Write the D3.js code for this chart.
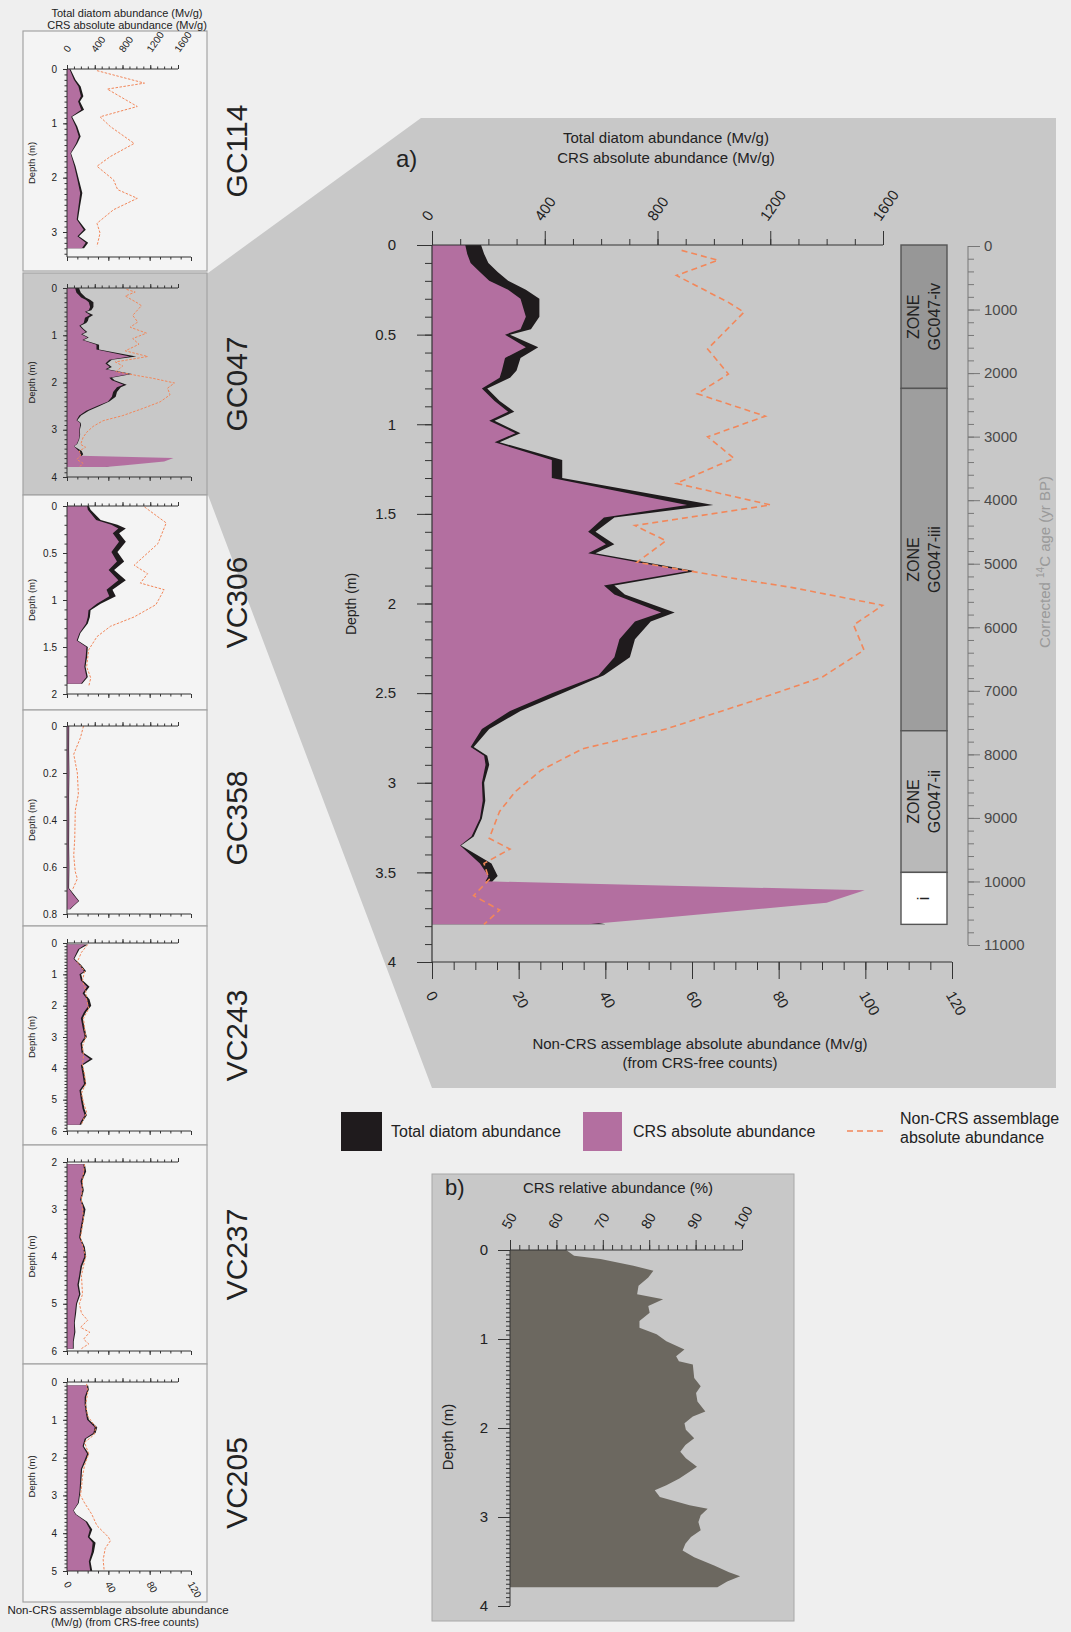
<!DOCTYPE html>
<html>
<head>
<meta charset="utf-8">
<script src="https://cdn.jsdelivr.net/npm/d3@7"></script>
<style>
  body { margin: 0; background: #efefef; }
  svg { display: block; }
</style>
</head>
<body>
<svg id="fig" width="1071" height="1632"></svg>
<script>
// ---------------- GC047 (panel a and its thumbnail) ----------------
const gc047Depth = [0,0.05,0.10,0.15,0.20,0.25,0.30,0.40,0.47,0.50,0.57,0.63,0.70,0.74,0.80,0.87,0.93,0.98,1.05,1.10,1.20,1.30,1.45,1.52,1.60,1.67,1.72,1.82,1.90,1.95,2.05,2.10,2.20,2.30,2.40,2.50,2.60,2.70,2.80,2.85,2.90,3.00,3.10,3.20,3.30,3.35,3.45,3.52,3.55,3.60,3.67,3.75,3.79];
const gc047Total = [174,185,200,233,270,333,381,381,351,277,377,314,300,277,196,240,292,222,314,240,462,462,998,647,580,647,580,935,647,684,861,776,720,702,610,462,314,203,148,196,203,185,189,177,148,103,211,233,215,200,200,475,616];
const gc047CRS = [118,125,137,170,203,270,314,333,314,259,333,259,248,240,177,222,270,203,296,222,425,425,905,610,554,617,554,905,610,647,813,720,665,647,591,425,277,177,137,185,190,177,180,170,140,100,170,200,190,1535,1400,840,554];
const gc047NonDepth = [0.03,0.085,0.17,0.32,0.375,0.58,0.72,0.83,0.955,1.07,1.19,1.33,1.45,1.565,1.65,1.77,1.855,1.91,2.01,2.12,2.26,2.41,2.55,2.70,2.81,2.93,3.05,3.16,3.31,3.37,3.45,3.54,3.63,3.71,3.79];
const gc047NonCRS = [57.6,66,56.4,68.4,72,63.6,68.4,61.2,76.9,63.6,69.7,56.4,78.1,46.8,54,47.3,68.4,82.9,104,97.3,99.7,90.1,73.3,54,34.8,25.2,19.2,15.6,13.2,18,12,13.2,9.6,15.6,12];

// zonation of GC047 (depth in m)
const zoneLabels = ["GC047-iv","GC047-iii","GC047-ii","i"];
const zoneTop = [0,0.80,2.71,3.50];
const zoneBottom = [0.80,2.71,3.50,3.79];

// ---------------- other cores (thumbnails) ----------------
const gc114Depth = [0,0.20,0.32,0.50,0.60,0.75,0.88,1.06,1.24,1.37,1.55,1.79,2.04,2.28,2.53,2.77,2.96,3.08,3.20,3.30];
const gc114Total = [49,123,197,236,187,246,74,148,197,148,59,123,172,221,187,158,271,172,305,246];
const gc114CRS = [35,100,165,200,160,205,60,125,170,130,50,105,150,190,165,140,240,150,270,215];
const gc114NonDepth = [0.03,0.26,0.37,0.69,0.88,1.06,1.37,1.61,1.79,2.04,2.22,2.38,2.59,2.84,3.02,3.26];
const gc114NonCRS = [29,75,39,68,32,42,65,42,29,45,49,68,45,29,32,29];

const vc306Depth = [0,0.04,0.15,0.20,0.24,0.29,0.38,0.49,0.59,0.68,0.79,0.89,0.96,1.04,1.11,1.18,1.25,1.35,1.43,1.50,1.60,1.71,1.82,1.89];
const vc306Total = [315,340,485,727,848,751,848,727,824,679,848,655,703,485,340,330,300,194,155,300,291,267,300,218];
const vc306CRS = [290,300,420,640,740,660,750,640,720,600,740,570,610,430,310,300,275,180,140,280,270,250,280,200];
const vc306NonDepth = [0.01,0.18,0.40,0.63,0.72,0.82,0.89,1.05,1.18,1.28,1.39,1.53,1.71,1.83,1.92];
const vc306NonCRS = [75,96,88,65,78,71,94,86,65,42,29,21,19,23,21];

const gc358Depth = [0,0.10,0.20,0.30,0.40,0.50,0.60,0.69,0.72,0.745,0.77,0.78];
const gc358Total = [32,30,34,30,32,30,34,30,110,175,80,50];
const gc358CRS = [22,20,24,20,22,20,24,20,95,165,70,40];
const gc358NonDepth = [0,0.05,0.12,0.20,0.29,0.36,0.48,0.55,0.62,0.65,0.70];
const gc358NonCRS = [16,13,6.5,10,11,8,7.5,6.5,8,10,5];

const vc243Depth = [0.05,0.2,0.5,0.7,0.9,1.0,1.2,1.4,1.6,1.8,2.0,2.2,2.4,2.7,3.0,3.2,3.5,3.7,3.9,4.2,4.5,4.7,5.0,5.3,5.5,5.7,5.8];
const vc243Total = [300,180,107,204,276,204,228,325,252,325,349,276,228,252,286,218,238,373,228,252,276,204,228,252,286,228,204];
const vc243CRS = [265,160,95,180,245,180,200,290,225,290,310,245,200,225,255,195,210,330,200,225,245,180,200,225,255,200,180];
const vc243NonDepth = [0.05,0.3,0.6,0.9,1.2,1.5,1.8,2.1,2.4,2.7,3.0,3.3,3.6,3.9,4.2,4.5,4.8,5.1,5.4,5.7,5.8];
const vc243NonCRS = [20,14,10,17,15,18,19,21,16,17,18,15,16,15,17,18,14,16,19,15,14];

const vc237Depth = [2.05,2.2,2.4,2.6,2.8,3.0,3.2,3.4,3.6,3.8,4.0,4.2,4.4,4.6,4.8,5.0,5.2,5.4,5.6,5.8,5.95];
const vc237Total = [257,276,218,242,208,267,242,218,194,257,276,218,194,170,194,145,131,112,121,97,97];
const vc237CRS = [235,250,195,220,190,240,220,195,175,235,250,195,175,150,175,130,115,100,105,85,85];
const vc237NonDepth = [2.05,2.4,2.8,3.2,3.6,4.0,4.4,4.8,5.0,5.2,5.35,5.5,5.6,5.75,5.85,5.95];
const vc237NonCRS = [17,15,14,16,13,18,14,15,12,14,20,13,22,16,21,14];

const vc205Depth = [0.09,0.2,0.4,0.6,0.8,1.0,1.2,1.35,1.5,1.7,1.9,2.1,2.3,2.6,2.9,3.2,3.4,3.5,3.7,3.9,4.1,4.25,4.5,4.75,5.0];
const vc205Total = [305,315,276,276,291,315,436,412,276,242,315,267,218,208,194,170,97,131,291,364,325,412,388,339,364];
const vc205CRS = [285,295,255,255,270,290,400,380,255,225,290,245,200,190,180,158,90,120,270,330,300,370,355,315,335];
const vc205NonDepth = [0.05,0.3,0.6,0.9,1.2,1.4,1.6,1.9,2.2,2.5,2.8,3.0,3.2,3.5,3.8,4.1,4.2,4.4,4.7,5.0];
const vc205NonCRS = [19,20,18,20,28,26,17,21,17,15,14,13,17,24,29,40,42,37,35,36];

const coreNames = ["GC114","GC047","VC306","GC358","VC243","VC237","VC205"];
const coreDepthRange = [[0,3.46],[0,4],[0,2],[0,0.8],[0,6],[2,6],[0,5]];
const coreDepthTicks = [[0,1,2,3],[0,1,2,3,4],[0,0.5,1,1.5,2],[0,0.2,0.4,0.6,0.8],[0,1,2,3,4,5,6],[2,3,4,5,6],[0,1,2,3,4,5]];

// ---------------- panel b: CRS relative abundance, GC047 ----------------
const relDepth = [0,0.064,0.102,0.177,0.233,0.309,0.403,0.497,0.553,0.629,0.704,0.798,0.873,0.948,1.024,1.118,1.193,1.25,1.287,1.438,1.532,1.607,1.701,1.814,1.871,1.946,2.021,2.115,2.19,2.266,2.341,2.435,2.492,2.567,2.642,2.699,2.774,2.868,2.906,2.981,3.056,3.15,3.225,3.301,3.376,3.451,3.545,3.621,3.666,3.726,3.79];
const relCRS = [62.1,63.8,69.5,76.6,80.9,79.8,77.7,77.4,83.0,79.8,80.1,77.9,77.9,81.6,83.7,87.6,85.8,86.4,89.4,89.7,91.1,90.1,90.4,92.1,89.4,87.6,87.9,89.7,87.8,86.7,87.9,90.3,88.7,86.5,83.7,81.2,82.3,88.7,92.6,91.1,90.6,91.1,89.0,87.8,87.2,89.7,94.0,97.2,99.6,96.8,94.7];

// ---------------- tick values ----------------
const absTicks = [0,400,800,1200,1600];
const nonTicks = [0,20,40,60,80,100,120];
const smallNonTicks = [0,40,80,120];
const depthTicks = [0,0.5,1,1.5,2,2.5,3,3.5,4];
const ageTicks = [0,1000,2000,3000,4000,5000,6000,7000,8000,9000,10000,11000];
const relTicks = [50,60,70,80,90,100];
const relDepthTicks = [0,1,2,3,4];

// ---------------- styling ----------------
const FONT = '"Liberation Sans", Arial, Helvetica, sans-serif';
const INK = "#222";
const BLACK = "#1f1b1d";
const PINK = "#b36fa0";
const ORANGE = "#f2875a";
const GRAY = "#c8c8c8";
const fig = d3.select("#fig").attr("font-family", FONT);

function tidy(g, size, color) {
  g.attr("font-family", FONT).attr("font-size", size);
  g.select(".domain").remove();
  g.selectAll(".tick line").attr("stroke", "#333").attr("stroke-width", 1);
  g.selectAll(".tick text").attr("fill", color || INK);
  return g;
}
function rows(depths, a, b) {
  return depths.map((d, i) => ({ d, a: a[i], b: b ? b[i] : null }));
}
function vLabel(sel, x, y, text, size, color) {
  return sel.append("text").attr("transform", `translate(${x},${y}) rotate(-90)`)
    .attr("text-anchor", "middle").attr("font-size", size).attr("fill", color || INK).text(text);
}

fig.append("rect").attr("width", 1071).attr("height", 1632).attr("fill", "#efefef");

// grey band joining the GC047 thumbnail to panel a
fig.append("polygon")
  .attr("points", [[23,273],[208,273],[421,118],[1056,118],[1056,1088],[432,1088],[208,495],[23,495]].map(p => p.join(",")).join(" "))
  .attr("fill", GRAY);

// ---------------- thumbnails ----------------
const panelLayout = [
  { boxTop: 31,   boxBottom: 271,  plotTop: 69,   plotBottom: 257 },
  { boxTop: 273,  boxBottom: 495,  plotTop: 288,  plotBottom: 477 },
  { boxTop: 495,  boxBottom: 710,  plotTop: 506,  plotBottom: 694 },
  { boxTop: 710,  boxBottom: 926,  plotTop: 726,  plotBottom: 914 },
  { boxTop: 926,  boxBottom: 1145, plotTop: 943,  plotBottom: 1131 },
  { boxTop: 1145, boxBottom: 1364, plotTop: 1162, plotBottom: 1351 },
  { boxTop: 1364, boxBottom: 1602, plotTop: 1382, plotBottom: 1571 }
];
const coreSeries = [
  [gc114Depth, gc114Total, gc114CRS, gc114NonDepth, gc114NonCRS],
  [gc047Depth, gc047Total, gc047CRS, gc047NonDepth, gc047NonCRS],
  [vc306Depth, vc306Total, vc306CRS, vc306NonDepth, vc306NonCRS],
  [gc358Depth, gc358Total, gc358CRS, gc358NonDepth, gc358NonCRS],
  [vc243Depth, vc243Total, vc243CRS, vc243NonDepth, vc243NonCRS],
  [vc237Depth, vc237Total, vc237CRS, vc237NonDepth, vc237NonCRS],
  [vc205Depth, vc205Total, vc205CRS, vc205NonDepth, vc205NonCRS]
];
const sAbs = d3.scaleLinear().domain([0,1600]).range([67,178]);
const sNon = d3.scaleLinear().domain([0,120]).range([67,191]);

coreNames.forEach((name, i) => {
  const L = panelLayout[i];
  const [dep, tot, crs, nDep, nVal] = coreSeries[i];
  const g = fig.append("g");
  g.append("rect").attr("x", 23).attr("y", L.boxTop).attr("width", 184).attr("height", L.boxBottom - L.boxTop)
    .attr("fill", i === 1 ? GRAY : "#f4f4f4").attr("stroke", "#a3a3a3").attr("stroke-width", 1.2);
  const [d0, d1] = coreDepthRange[i];
  const y = d3.scaleLinear().domain([d0, d1]).range([L.plotTop, L.plotBottom]);
  const data = rows(dep, tot, crs);
  g.append("path").datum(data).attr("fill", BLACK)
    .attr("d", d3.area().y(p => y(p.d)).x0(sAbs(0)).x1(p => sAbs(p.a)));
  g.append("path").datum(data).attr("fill", PINK)
    .attr("d", d3.area().y(p => y(p.d)).x0(sAbs(0)).x1(p => sAbs(p.b)));
  g.append("path").datum(rows(nDep, nVal)).attr("fill", "none").attr("stroke", ORANGE)
    .attr("stroke-width", 1).attr("stroke-dasharray", "2.5,1.5")
    .attr("d", d3.line().y(p => y(p.d)).x(p => sNon(p.a)));

  // top axis
  g.append("line").attr("x1", 67).attr("x2", sAbs(1600)).attr("y1", L.plotTop).attr("y2", L.plotTop).attr("stroke", "#333");
  tidy(g.append("g").attr("transform", `translate(0,${L.plotTop})`)
    .call(d3.axisTop(sAbs).tickValues(d3.range(0, 1601, 100)).tickSize(2.5).tickFormat("")), 10);
  const top = tidy(g.append("g").attr("transform", `translate(0,${L.plotTop})`)
    .call(d3.axisTop(sAbs).tickValues(absTicks).tickSize(4).tickFormat(i === 0 ? d3.format("d") : "")), 10);
  top.selectAll(".tick text").attr("y", 0).attr("dy", null).attr("text-anchor", "start")
    .attr("transform", "translate(1,-16) rotate(-55)");

  // bottom axis
  g.append("line").attr("x1", 67).attr("x2", sNon(120)).attr("y1", L.plotBottom).attr("y2", L.plotBottom).attr("stroke", "#333");
  tidy(g.append("g").attr("transform", `translate(0,${L.plotBottom})`)
    .call(d3.axisBottom(sNon).tickValues(d3.range(0, 121, 10)).tickSize(2.5).tickFormat("")), 10);
  const bot = tidy(g.append("g").attr("transform", `translate(0,${L.plotBottom})`)
    .call(d3.axisBottom(sNon).tickValues(smallNonTicks).tickSize(4).tickFormat(i === 6 ? d3.format("d") : "")), 10);
  bot.selectAll(".tick text").attr("y", 0).attr("dy", null).attr("text-anchor", "start")
    .attr("transform", "translate(-4,13) rotate(60)");

  // depth axis
  g.append("line").attr("x1", 67).attr("x2", 67).attr("y1", L.plotTop).attr("y2", L.plotBottom).attr("stroke", "#333");
  const minor = d3.range(Math.round(d0 * 10), Math.round(d1 * 10) + 1).map(v => v / 10).filter(v => v <= d1);
  tidy(g.append("g").attr("transform", "translate(67,0)")
    .call(d3.axisLeft(y).tickValues(minor).tickSize(2.5).tickFormat("")), 10);
  tidy(g.append("g").attr("transform", "translate(67,0)")
    .call(d3.axisLeft(y).tickValues(coreDepthTicks[i]).tickSize(4).tickPadding(6).tickFormat(d => String(d))), 10);

  vLabel(g, 35, (L.plotTop + L.plotBottom) / 2, "Depth (m)", 9.5);
  vLabel(g, 236, (L.boxTop + L.boxBottom) / 2, name, 30).attr("dominant-baseline", "central");
});

// thumbnail headings
fig.append("text").attr("x", 127).attr("y", 17).attr("text-anchor", "middle").attr("font-size", 11).attr("fill", INK)
  .text("Total diatom abundance (Mv/g)");
fig.append("text").attr("x", 127).attr("y", 29).attr("text-anchor", "middle").attr("font-size", 11).attr("fill", INK)
  .text("CRS absolute abundance (Mv/g)");
fig.append("text").attr("x", 118).attr("y", 1614).attr("text-anchor", "middle").attr("font-size", 11.5).attr("fill", INK)
  .text("Non-CRS assemblage absolute abundance");
fig.append("text").attr("x", 125).attr("y", 1626).attr("text-anchor", "middle").attr("font-size", 11).attr("fill", INK)
  .text("(Mv/g) (from CRS-free counts)");

// ---------------- panel a ----------------
const A = fig.append("g");
const X0 = 432;
const yA = d3.scaleLinear().domain([0,4]).range([245,962]);
const xAbs = d3.scaleLinear().domain([0,1600]).range([X0,883]);
const xNon = d3.scaleLinear().domain([0,120]).range([X0,952]);
const yAge = d3.scaleLinear().domain([0,11000]).range([246,945]);

const mainRows = rows(gc047Depth, gc047Total, gc047CRS);
A.append("path").datum(mainRows).attr("fill", BLACK)
  .attr("d", d3.area().y(p => yA(p.d)).x0(xAbs(0)).x1(p => xAbs(p.a)));
A.append("path").datum(mainRows).attr("fill", PINK)
  .attr("d", d3.area().y(p => yA(p.d)).x0(xAbs(0)).x1(p => xAbs(p.b)));
A.append("path").datum(rows(gc047NonDepth, gc047NonCRS)).attr("fill", "none").attr("stroke", ORANGE)
  .attr("stroke-width", 1.6).attr("stroke-dasharray", "6,4")
  .attr("d", d3.line().y(p => yA(p.d)).x(p => xNon(p.a)));

// top (absolute abundance) axis
A.append("line").attr("x1", X0).attr("x2", xAbs(1600)).attr("y1", 245).attr("y2", 245).attr("stroke", "#333").attr("stroke-width", 1.2);
tidy(A.append("g").attr("transform", "translate(0,245)")
  .call(d3.axisTop(xAbs).tickValues(d3.range(0, 1601, 100)).tickSize(6).tickFormat("")), 15);
const aTop = tidy(A.append("g").attr("transform", "translate(0,245)")
  .call(d3.axisTop(xAbs).tickValues(absTicks).tickSize(14).tickFormat(d3.format("d"))), 15);
aTop.selectAll(".tick text").attr("y", 0).attr("dy", null).attr("text-anchor", "start")
  .attr("transform", "translate(-3,-23) rotate(-55)");

// bottom (non-CRS) axis
A.append("line").attr("x1", X0).attr("x2", xNon(120)).attr("y1", 962).attr("y2", 962).attr("stroke", "#333").attr("stroke-width", 1.2);
tidy(A.append("g").attr("transform", "translate(0,962)")
  .call(d3.axisBottom(xNon).tickValues(d3.range(0, 121, 5)).tickSize(8).tickFormat("")), 15);
const aBot = tidy(A.append("g").attr("transform", "translate(0,962)")
  .call(d3.axisBottom(xNon).tickValues(nonTicks).tickSize(17).tickFormat(d3.format("d"))), 15);
aBot.selectAll(".tick text").attr("y", 0).attr("dy", null).attr("text-anchor", "start")
  .attr("transform", "translate(-7,33) rotate(60)");

// depth axis
A.append("line").attr("x1", X0).attr("x2", X0).attr("y1", 245).attr("y2", 962).attr("stroke", "#333").attr("stroke-width", 1.2);
tidy(A.append("g").attr("transform", `translate(${X0},0)`)
  .call(d3.axisLeft(yA).tickValues(d3.range(0, 41).map(v => v / 10)).tickSize(7).tickFormat("")), 15);
tidy(A.append("g").attr("transform", `translate(${X0},0)`)
  .call(d3.axisLeft(yA).tickValues(depthTicks).tickSize(15).tickPadding(21).tickFormat(d => String(d))), 15);

A.append("text").attr("x", 396).attr("y", 167).attr("font-size", 24).attr("fill", INK).text("a)");
A.append("text").attr("x", 666).attr("y", 143).attr("text-anchor", "middle").attr("font-size", 15).attr("fill", INK)
  .text("Total diatom abundance (Mv/g)");
A.append("text").attr("x", 666).attr("y", 163).attr("text-anchor", "middle").attr("font-size", 15).attr("fill", INK)
  .text("CRS absolute abundance (Mv/g)");
A.append("text").attr("x", 700).attr("y", 1049).attr("text-anchor", "middle").attr("font-size", 15).attr("fill", INK)
  .text("Non-CRS assemblage absolute abundance (Mv/g)");
A.append("text").attr("x", 700).attr("y", 1068).attr("text-anchor", "middle").attr("font-size", 15).attr("fill", INK)
  .text("(from CRS-free counts)");
vLabel(A, 356, 604, "Depth (m)", 14);

// zone column
const zoneFill = ["#979797", "#9e9e9e", "#b9b9b9", "#ffffff"];
zoneLabels.forEach((lab, i) => {
  const y0 = yA(zoneTop[i]), y1 = yA(zoneBottom[i]);
  A.append("rect").attr("x", 901).attr("y", y0).attr("width", 46).attr("height", y1 - y0)
    .attr("fill", zoneFill[i]).attr("stroke", "#555").attr("stroke-width", 1.4);
  const cy = (y0 + y1) / 2;
  const t = A.append("text").attr("transform", `translate(924,${cy}) rotate(-90)`)
    .attr("text-anchor", "middle").attr("font-size", 16).attr("fill", INK);
  if (lab === "i") {
    t.attr("y", 5).text(lab);
  } else {
    t.append("tspan").attr("x", 0).attr("y", -5).text("ZONE");
    t.append("tspan").attr("x", 0).attr("y", 16).text(lab);
  }
});

// age axis
A.append("line").attr("x1", 968).attr("x2", 968).attr("y1", yAge(0)).attr("y2", yAge(11000)).attr("stroke", "#777");
tidy(A.append("g").attr("class", "age").attr("transform", "translate(968,0)")
  .call(d3.axisRight(yAge).tickValues(d3.range(0, 11001, 200)).tickSize(6).tickFormat("")), 15);
tidy(A.append("g").attr("class", "age").attr("transform", "translate(968,0)")
  .call(d3.axisRight(yAge).tickValues(ageTicks).tickSize(12).tickPadding(4).tickFormat(d3.format("d"))), 15, "#4a4a4a");
A.selectAll("g.age .tick line").attr("stroke", "#777");
const ageT = A.append("text").attr("transform", "translate(1050,562) rotate(-90)")
  .attr("text-anchor", "middle").attr("font-size", 15).attr("fill", "#9a9a9a");
ageT.append("tspan").text("Corrected ");
ageT.append("tspan").attr("font-size", 10).attr("dy", -6).text("14");
ageT.append("tspan").attr("dy", 6).text("C age (yr BP)");

// ---------------- legend ----------------
const Lg = fig.append("g");
Lg.append("rect").attr("x", 341).attr("y", 1112).attr("width", 41).attr("height", 39).attr("fill", BLACK);
Lg.append("text").attr("x", 391).attr("y", 1137).attr("font-size", 16).attr("fill", INK).text("Total diatom abundance");
Lg.append("rect").attr("x", 583).attr("y", 1112).attr("width", 39).attr("height", 39).attr("fill", PINK);
Lg.append("text").attr("x", 633).attr("y", 1137).attr("font-size", 16).attr("fill", INK).text("CRS absolute abundance");
Lg.append("line").attr("x1", 847).attr("x2", 884).attr("y1", 1131).attr("y2", 1131)
  .attr("stroke", ORANGE).attr("stroke-width", 1.6).attr("stroke-dasharray", "6,4");
Lg.append("text").attr("x", 900).attr("y", 1124).attr("font-size", 16).attr("fill", INK).text("Non-CRS assemblage");
Lg.append("text").attr("x", 900).attr("y", 1143).attr("font-size", 16).attr("fill", INK).text("absolute abundance");

// ---------------- panel b ----------------
const B = fig.append("g");
B.append("rect").attr("x", 432).attr("y", 1174).attr("width", 362).attr("height", 447)
  .attr("fill", GRAY).attr("stroke", "#a8a8a8");
const yB = d3.scaleLinear().domain([0,4]).range([1250,1606]);
const xB = d3.scaleLinear().domain([50,100]).range([510,742]);
B.append("path").datum(rows(relDepth, relCRS)).attr("fill", "#6c6860")
  .attr("d", d3.area().y(p => yB(p.d)).x0(xB(50)).x1(p => xB(p.a)));
B.append("line").attr("x1", 510).attr("x2", xB(100)).attr("y1", 1250).attr("y2", 1250).attr("stroke", "#333");
tidy(B.append("g").attr("transform", "translate(0,1250)")
  .call(d3.axisTop(xB).tickValues(d3.range(50, 101, 2)).tickSize(5).tickFormat("")), 14);
const bTop = tidy(B.append("g").attr("transform", "translate(0,1250)")
  .call(d3.axisTop(xB).tickValues(relTicks).tickSize(10).tickFormat(d3.format("d"))), 14);
bTop.selectAll(".tick text").attr("y", 0).attr("dy", null).attr("text-anchor", "start")
  .attr("transform", "translate(-1,-20) rotate(-60)");
B.append("line").attr("x1", 510).attr("x2", 510).attr("y1", 1250).attr("y2", 1606).attr("stroke", "#333");
tidy(B.append("g").attr("transform", "translate(510,0)")
  .call(d3.axisLeft(yB).tickValues(d3.range(0, 81).map(v => v / 20)).tickSize(4).tickFormat("")), 15);
tidy(B.append("g").attr("transform", "translate(510,0)")
  .call(d3.axisLeft(yB).tickValues(relDepthTicks).tickSize(12).tickPadding(10).tickFormat(d3.format("d"))), 15);
B.append("text").attr("x", 445).attr("y", 1195).attr("font-size", 22).attr("fill", INK).text("b)");
B.append("text").attr("x", 618).attr("y", 1193).attr("text-anchor", "middle").attr("font-size", 15).attr("fill", INK)
  .text("CRS relative abundance (%)");
vLabel(B, 453, 1437, "Depth (m)", 15);
</script>
</body>
</html>
